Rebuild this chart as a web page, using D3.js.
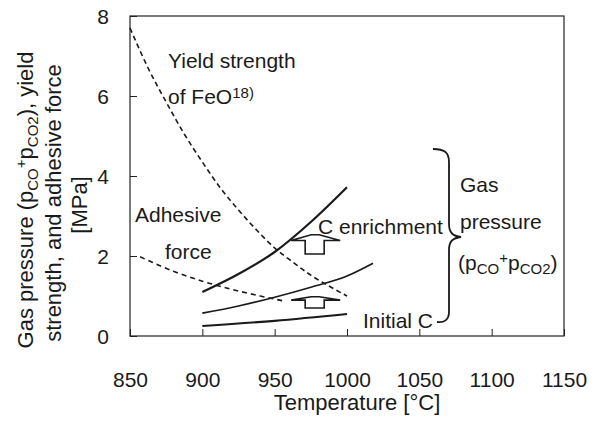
<!DOCTYPE html>
<html>
<head>
<meta charset="utf-8">
<script src="https://cdn.jsdelivr.net/npm/d3@7"></script>
<style>
  body { margin: 0; background: #fff; }
  text { font-family: "Liberation Sans", Arial, sans-serif; fill: #1a1a1a; }
</style>
</head>
<body>
<div id="chart"></div>
<script>
// ---- data ----
var xTicks = [850, 900, 950, 1000, 1050, 1100, 1150];
var yTicks = [0, 2, 4, 6, 8];

// yield strength of FeO (dashed)
var yieldT = [850, 862.5, 875, 887.5, 900, 912.5, 925, 937.5, 950, 962.5, 975, 987.5, 1000];
var yieldV = [7.7, 6.7, 5.85, 5.05, 4.35, 3.7, 3.15, 2.65, 2.2, 1.85, 1.52, 1.25, 1.0];

// adhesive force (dashed)
var adhT = [857, 880, 900, 920, 940, 957];
var adhV = [1.98, 1.62, 1.37, 1.17, 1.0, 0.87];

// gas pressure curves (solid)
var gasHighT = [900, 925, 950, 975, 1000];
var gasHighV = [1.1, 1.55, 2.1, 2.85, 3.72];
var gasMidT = [900, 925, 950, 975, 1000, 1018];
var gasMidV = [0.57, 0.75, 0.97, 1.22, 1.5, 1.82];
var gasLowT = [900, 950, 1000];
var gasLowV = [0.25, 0.38, 0.55];

// hollow arrows: temperature, bottom value, top value
var arrows = [
  { t: 978, from: 2.05, to: 2.53 },
  { t: 978, from: 0.70, to: 0.98 }
];

// ---- layout ----
var margin = {top: 16, right: 37, bottom: 99, left: 130},
    width = 601 - margin.left - margin.right,
    height = 435 - margin.top - margin.bottom;

var svg = d3.select("#chart")
  .append("svg")
    .attr("width", 601)
    .attr("height", 435);

var g = svg.append("g")
    .attr("transform", "translate(" + margin.left + "," + margin.top + ")");

var x = d3.scaleLinear().domain([850, 1150]).range([0, width]);
var y = d3.scaleLinear().domain([0, 8]).range([height, 0]);

// frame
g.append("rect")
  .attr("width", width)
  .attr("height", height)
  .attr("fill", "none")
  .attr("stroke", "#222")
  .attr("stroke-width", 1.2);

// x axis (ticks pointing inward)
var xAxis = g.append("g")
  .attr("transform", "translate(0," + height + ")")
  .call(d3.axisBottom(x).tickValues(xTicks).tickFormat(d3.format("d"))
    .tickSizeInner(-7).tickSizeOuter(0).tickPadding(0));
xAxis.select(".domain").remove();
xAxis.selectAll("line").attr("stroke", "#222");
xAxis.selectAll("text")
  .attr("y", 51)
  .attr("dy", "0")
  .style("font-size", "21px")
  .style("font-family", "Liberation Sans, Arial, sans-serif")
  .attr("fill", "#1a1a1a");

// y axis
var yAxis = g.append("g")
  .call(d3.axisLeft(y).tickValues(yTicks).tickSizeInner(-7).tickSizeOuter(0).tickPadding(0));
yAxis.select(".domain").remove();
yAxis.selectAll("line").attr("stroke", "#222");
yAxis.selectAll("text")
  .attr("x", -21)
  .attr("dy", "0.36em")
  .style("font-size", "21px")
  .style("font-family", "Liberation Sans, Arial, sans-serif")
  .attr("fill", "#1a1a1a");

// x axis title
svg.append("text")
  .attr("x", 357)
  .attr("y", 410)
  .attr("text-anchor", "middle")
  .style("font-size", "22px")
  .text("Temperature [°C]");

// y axis title (three rotated lines)
var yt = svg.append("text")
  .attr("transform", "translate(33,200) rotate(-90)")
  .attr("text-anchor", "middle")
  .style("font-size", "22px");
yt.append("tspan").text("Gas pressure (p");
yt.append("tspan").attr("dy", 5).style("font-size", "15px").text("CO");
yt.append("tspan").attr("dy", -12).style("font-size", "15px").text("+");
yt.append("tspan").attr("dy", 7).text("p");
yt.append("tspan").attr("dy", 5).style("font-size", "15px").text("CO2");
yt.append("tspan").attr("dy", -5).text("), yield");

svg.append("text")
  .attr("transform", "translate(61,203) rotate(-90)")
  .attr("text-anchor", "middle")
  .style("font-size", "22px")
  .text("strength, and adhesive force");

svg.append("text")
  .attr("transform", "translate(87,205) rotate(-90)")
  .attr("text-anchor", "middle")
  .style("font-size", "22px")
  .text("[MPa]");

// ---- curves ----
function line(ts, vs) {
  return d3.line()
    .x(function(d) { return x(d[0]); })
    .y(function(d) { return y(d[1]); })
    .curve(d3.curveMonotoneX)(d3.zip(ts, vs));
}

g.append("path")
  .attr("d", line(yieldT, yieldV))
  .attr("fill", "none")
  .attr("stroke", "#1a1a1a")
  .attr("stroke-width", 1.6)
  .attr("stroke-dasharray", "5,3.5");

g.append("path")
  .attr("d", line(adhT, adhV))
  .attr("fill", "none")
  .attr("stroke", "#1a1a1a")
  .attr("stroke-width", 1.6)
  .attr("stroke-dasharray", "5,4");

[[gasHighT, gasHighV, 2.2], [gasMidT, gasMidV, 1.7], [gasLowT, gasLowV, 2.2]].forEach(function(c) {
  g.append("path")
    .attr("d", line(c[0], c[1]))
    .attr("fill", "none")
    .attr("stroke", "#1a1a1a")
    .attr("stroke-width", c[2]);
});

// hollow up-arrows
arrows.forEach(function(a) {
  var cx = x(a.t), yb = y(a.from), yt2 = y(a.to);
  var headH = (yb - yt2) * 0.3;
  var yh = yt2 + headH;
  var pts = [
    [cx - 10, yb], [cx - 10, yh], [cx - 24, yh], [cx - 4, yt2],
    [cx + 4, yt2], [cx + 25, yh], [cx + 9, yh], [cx + 9, yb]
  ];
  g.append("path")
    .attr("d", d3.line()(pts) + "Z")
    .attr("fill", "#fff")
    .attr("stroke", "#1a1a1a")
    .attr("stroke-width", 1.6);
});

// curly brace for gas pressure
svg.append("path")
  .attr("d", "M433,149 C444,149 449,152 449,162 L449,224 C449,233 453,236 461,237 C453,238 449,241 449,250 L449,312 C449,320 444,323 437,322")
  .attr("fill", "none")
  .attr("stroke", "#1a1a1a")
  .attr("stroke-width", 1.8);

// ---- labels ----
function label(tx, ty, str) {
  return svg.append("text")
    .attr("x", tx)
    .attr("y", ty)
    .style("font-size", "21px")
    .text(str);
}

label(168, 68, "Yield strength");
var fe = label(168, 104, "of FeO");
fe.append("tspan").attr("dy", -6).style("font-size", "15px").text("18)");

label(135, 222, "Adhesive");
label(165, 259, "force");
label(318, 234, "C enrichment");
label(363, 328, "Initial C");

label(460, 192, "Gas");
label(460, 229, "pressure");
var gp = label(458, 270, "(p");
gp.append("tspan").attr("dy", 4).style("font-size", "15px").text("CO");
gp.append("tspan").attr("dy", -11).style("font-size", "15px").text("+");
gp.append("tspan").attr("dy", 7).text("p");
gp.append("tspan").attr("dy", 4).style("font-size", "15px").text("CO2");
gp.append("tspan").attr("dy", -4).text(")");
</script>
</body>
</html>
